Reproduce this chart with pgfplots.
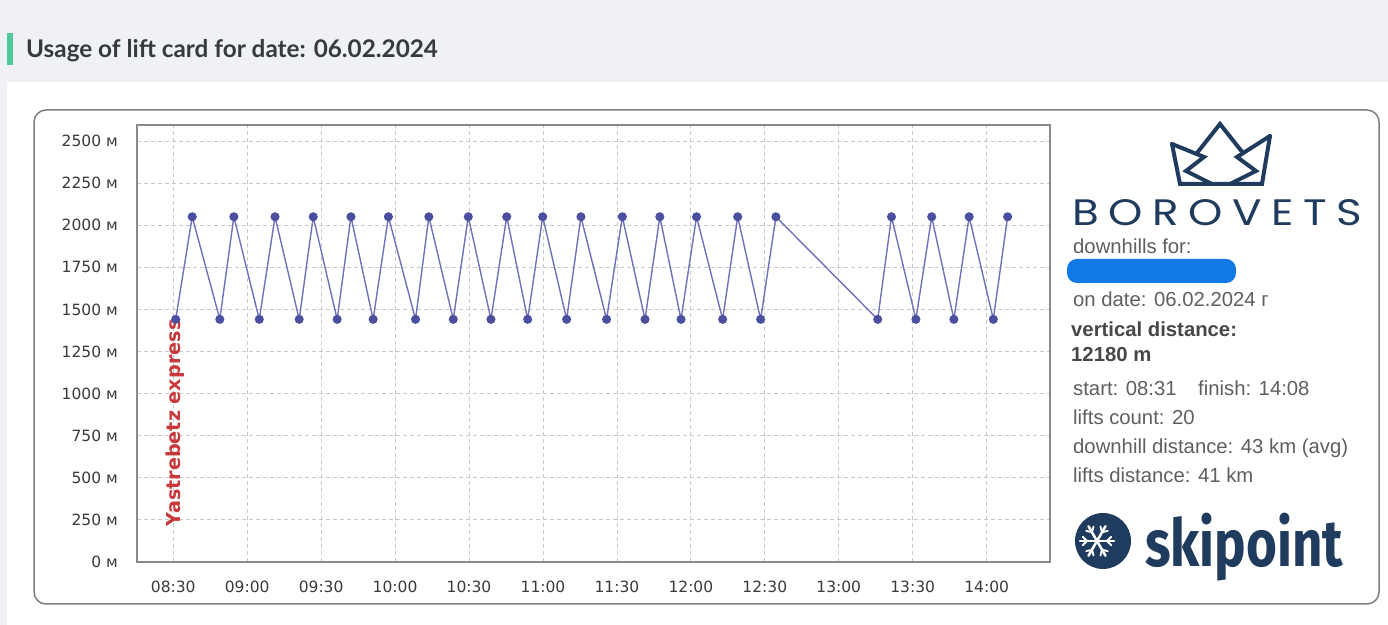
\documentclass[border=0pt]{standalone}
\usepackage{fontspec}
\usepackage{graphicx}
\usepackage{pgfplots}
\pgfplotsset{compat=1.18}
\setmainfont{Liberation Sans}
\newfontfamily\chartfont{DejaVu Sans}
\newfontfamily\titlefont{Lato}
\newfontfamily\logofont{Poppins}[LetterSpace=22]
\newfontfamily\skifont{Fira Sans}

\definecolor{headbg}{HTML}{EFF1F5}
\definecolor{greenbar}{HTML}{52C99A}
\definecolor{titlec}{HTML}{343A40}
\definecolor{panelc}{HTML}{7F7F7F}
\definecolor{gridc}{HTML}{C8C8C8}
\definecolor{axisc}{HTML}{8A8A8A}
\definecolor{labelc}{HTML}{3A3A3A}
\definecolor{linec}{HTML}{6F72B8}
\definecolor{markc}{HTML}{4B4FA0}
\definecolor{redc}{HTML}{C8383A}
\definecolor{infoc}{HTML}{5F5F5F}
\definecolor{infobold}{HTML}{474747}
\definecolor{navy}{HTML}{1F3C5E}
\definecolor{redact}{HTML}{1278E6}

\begin{document}
\begin{tikzpicture}
\useasboundingbox (0,0) rectangle (1388bp,625bp);
\fill[white] (0,0) rectangle (1388bp,625bp);
\fill[headbg] (0,543bp) rectangle (1388bp,625bp);
\fill[headbg] (0,0) rectangle (7bp,625bp);

% page furniture, in picture pixels from the top left
\begin{scope}[shift={(0pt,625bp)}, x=1bp, y=-1bp]
  \fill[greenbar] (7,33) rectangle (13,65);
  \node[anchor=base west, inner sep=0pt, text=titlec,
        font=\titlefont\bfseries\fontsize{24.3bp}{28bp}\selectfont] at (26,58)
        {Usage of lift card for date: 06.02.2024};
  \draw[panelc, line width=1.5bp, rounded corners=12bp] (34,110) rectangle (1379,604);

  % crown
  \begin{scope}[navy, line width=4bp, line join=miter, line cap=round]
    \draw (1172,144) -- (1180,184) -- (1262,184) -- (1270,136);
    \draw (1172,144) -- (1204,157) -- (1186,171) -- (1212,184);
    \draw (1270,136) -- (1237,157) -- (1256,171) -- (1230,184);
    \draw (1197,153) -- (1220,124) -- (1243,153);
  \end{scope}
  \node[anchor=base west, inner sep=0pt, text=navy] at (1072,226)
       {\resizebox{290bp}{26bp}{\logofont BOROVETS}};

  \begin{scope}[font=\fontsize{20.3bp}{23bp}\selectfont, text=infoc]
    \node[anchor=base west, inner sep=0pt] at (1073,253.5) {downhills for:};
    \fill[redact, rounded corners=10bp] (1067,259) rectangle (1236,283);
    \node[anchor=base west, inner sep=0pt] at (1073,306.5) {on date: 06.02.2024 г};
    \node[anchor=base west, inner sep=0pt, text=infobold, font=\bfseries\fontsize{20.3bp}{23bp}\selectfont] at (1071,337) {vertical distance:};
    \node[anchor=base west, inner sep=0pt, text=infobold, font=\bfseries\fontsize{20.3bp}{23bp}\selectfont] at (1071,362) {12180 m};
    \node[anchor=base west, inner sep=0pt] at (1073,396) {start: 08:31};
    \node[anchor=base west, inner sep=0pt] at (1198,396) {finish: 14:08};
    \node[anchor=base west, inner sep=0pt] at (1073,425) {lifts count: 20};
    \node[anchor=base west, inner sep=0pt] at (1073,454) {downhill distance: 43 km (avg)};
    \node[anchor=base west, inner sep=0pt] at (1073,483) {lifts distance: 41 km};
  \end{scope}

  % ski point
  \fill[navy] (1103,541) circle (28);
  \foreach \a in {0,60,...,300} {
    \draw[white, line width=2.5bp, line cap=round] (1097,541) -- ++(\a:17);
    \draw[white, line width=1.8bp, line cap=round] ([shift={(\a:10)}]1097,541) -- ++(\a+45:6);
    \draw[white, line width=1.8bp, line cap=round] ([shift={(\a:10)}]1097,541) -- ++(\a-45:6);
  }
  \node[anchor=base west, inner sep=0pt, text=navy] at (1145,567)
       {\resizebox*{198bp}{68bp}{\skifont\bfseries skipoint}};
\end{scope}

\begin{axis}[
    at={(137bp,63bp)}, anchor=south west,
    scale only axis, width=913bp, height=437bp,
    xmin=495.3, xmax=865.7, ymin=0, ymax=2595,
    xtick={510,540,...,840},
    xticklabels={08:30,09:00,09:30,10:00,10:30,11:00,11:30,12:00,12:30,13:00,13:30,14:00},
    ytick={0,250,...,2500},
    yticklabels={0 м,250 м,500 м,750 м,1000 м,1250 м,1500 м,1750 м,2000 м,2250 м,2500 м},
    grid=major,
    major grid style={dash pattern=on 4bp off 3bp, color=gridc, line width=0.8bp},
    axis line style={axisc, line width=1.1bp},
    major tick length=0pt,
    tick label style={font=\chartfont\fontsize{15.5bp}{18bp}\selectfont, text=labelc, inner sep=0pt},
    xticklabel shift=19bp, yticklabel shift=19bp,
]
\addplot[linec, line width=1.4bp, mark=*, mark size=3.8bp, mark options={fill=markc, draw=markc}]
coordinates {
 (511,1441) (517.7,2050) (528.9,1441) (534.6,2050) (544.9,1441) (551.3,2050)
 (561.1,1441) (566.8,2050) (576.5,1441) (582.1,2050) (591.1,1441) (597.3,2050)
 (608.3,1441) (613.7,2050) (623.6,1441) (629.7,2050) (638.9,1441) (645.3,2050)
 (653.8,1441) (659.9,2050) (669.6,1441) (675.4,2050) (685.8,1441) (692.2,2050)
 (701.4,1441) (707.4,2050) (716.0,1441) (722.3,2050) (732.9,1441) (739.0,2050)
 (748.3,1441) (754.5,2050) (795.8,1441) (801.4,2050) (811.3,1441) (817.7,2050)
 (826.7,1441) (832.9,2050) (842.7,1441) (848.5,2050)
};
\node[rotate=90, anchor=east, inner sep=0pt, text=redc,
      font=\chartfont\bfseries\fontsize{19.2bp}{21bp}\selectfont]
      at (axis cs:511,1441) {Yastrebetz express};
\end{axis}
\end{tikzpicture}
\end{document}
